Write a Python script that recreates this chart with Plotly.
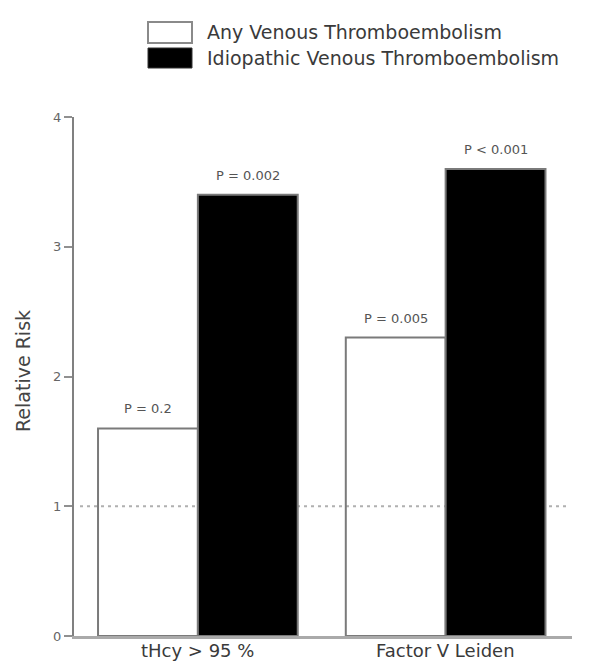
import plotly.graph_objects as go

# ---- data ----
categories = ["tHcy > 95 %", "Factor V Leiden"]
series_names = ["Any Venous Thromboembolism", "Idiopathic Venous Thromboembolism"]
any_vte = [1.6, 2.3]
idiopathic_vte = [3.4, 3.6]
p_any = ["P = 0.2", "P = 0.005"]
p_idio = ["P = 0.002", "P < 0.001"]
y_ticks = [0, 1, 2, 3, 4]
reference_level = 1

# the page body adds an 8px margin; compensate so the figure fills the window
OFF = 8
WIN_W, WIN_H = 596, 661
W, H = WIN_W - OFF, WIN_H - OFF
# plot area in window pixels: x 74..572, y 117..636
L, R, T, B = 74 - OFF, WIN_W - 572, 117 - OFF, WIN_H - 636
PW, PH = W - L - R, H - T - B

def px_x(px):
    return (px - OFF - L) / PW

def px_y(py):
    return (T + PH - (py - OFF)) / PH

FONT = "DejaVu Sans"
BARGAP = 0.194
half = (1 - BARGAP) / 4  # offset of each bar centre from category centre

fig = go.Figure()
fig.add_trace(go.Bar(
    x=categories, y=any_vte, name=series_names[0],
    marker=dict(color="rgba(255,255,255,0)", line=dict(color="#7a7a7a", width=2)),
    showlegend=False, hoverinfo="x+y+name",
))
fig.add_trace(go.Bar(
    x=categories, y=idiopathic_vte, name=series_names[1],
    marker=dict(color="#000000", line=dict(color="#7a7a7a", width=2)),
    showlegend=False, hoverinfo="x+y+name",
))

annotations = []
for i in range(len(categories)):
    annotations.append(dict(x=i - half, y=any_vte[i], xref="x", yref="y", text=p_any[i],
                            showarrow=False, yanchor="bottom", yshift=10,
                            font=dict(family=FONT, size=13, color="#555")))
    annotations.append(dict(x=i + half, y=idiopathic_vte[i], xref="x", yref="y", text=p_idio[i],
                            showarrow=False, yanchor="bottom", yshift=10,
                            font=dict(family=FONT, size=13, color="#555")))
    # category labels under the axis
    annotations.append(dict(x=i, y=0, xref="x", yref="paper", text=categories[i],
                            showarrow=False, yanchor="top", yshift=-2,
                            font=dict(family=FONT, size=18, color="#3a3a3a")))

# y-axis title
annotations.append(dict(x=px_x(23), y=px_y(371), xref="paper", yref="paper", text="Relative Risk",
                        textangle=-90, showarrow=False, xanchor="center", yanchor="middle",
                        font=dict(family=FONT, size=19, color="#444")))

# custom legend (large swatches)
shapes = [
    dict(type="line", xref="paper", yref="y", x0=px_x(80), x1=px_x(566),
         y0=reference_level, y1=reference_level, layer="below",
         line=dict(color="#b0b0b0", width=2, dash="3px,4px")),
    dict(type="rect", xref="paper", yref="paper", x0=px_x(148), x1=px_x(192),
         y0=px_y(43), y1=px_y(22), line=dict(color="#8a8a8a", width=2), fillcolor="white"),
    dict(type="rect", xref="paper", yref="paper", x0=px_x(148), x1=px_x(192),
         y0=px_y(68), y1=px_y(48), line=dict(color="#333", width=1), fillcolor="black"),
]
for name, cy in zip(series_names, [32, 58]):
    annotations.append(dict(x=px_x(205), y=px_y(cy), xref="paper", yref="paper", text=name,
                            showarrow=False, xanchor="left", yanchor="middle",
                            font=dict(family=FONT, size=19, color="#3a3a3a")))

fig.update_layout(
    width=W, height=H,
    margin=dict(l=L, r=R, t=T, b=B, autoexpand=False),
    paper_bgcolor="white", plot_bgcolor="white",
    barmode="group", bargap=BARGAP, bargroupgap=0,
    showlegend=False,
    font=dict(family=FONT, color="#444"),
    annotations=annotations, shapes=shapes,
    xaxis=dict(range=[-0.5, 1.51], showline=True, linecolor="#aaaaaa", linewidth=3,
               showgrid=False, zeroline=False, ticks="", fixedrange=True,
               showticklabels=False),
    yaxis=dict(range=[0, 4], tickvals=y_ticks, showline=True, linecolor="#808080", linewidth=2,
               showgrid=False, zeroline=False, ticks="outside", ticklen=8, tickwidth=2,
               tickcolor="#909090", fixedrange=True,
               tickfont=dict(family=FONT, size=13, color="#666")),
)

fig.write_html("out.html")
